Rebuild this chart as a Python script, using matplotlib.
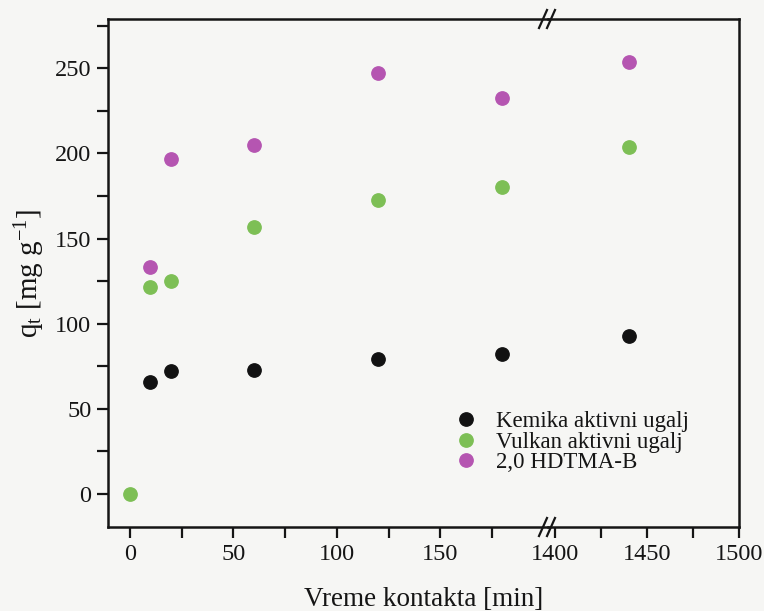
import matplotlib
matplotlib.use("Agg")
import matplotlib.pyplot as plt
from matplotlib.ticker import MultipleLocator, FixedLocator
from matplotlib.lines import Line2D

# Contact time [min] and adsorbed amount q_t [mg/g]
time_kemika = [10, 20, 60, 120, 180, 1440]
q_kemika = [65.5, 72, 72.5, 79.5, 82, 92.5]

time_vulkan = [0, 10, 20, 60, 120, 180, 1440]
q_vulkan = [0, 121.5, 125, 157, 172.5, 180.5, 203.5]

time_hdtma = [10, 20, 60, 120, 180, 1440]
q_hdtma = [133.5, 196.5, 205, 247.5, 232.5, 253.5]

series_labels = ["Kemika aktivni ugalj", "Vulkan aktivni ugalj", "2,0 HDTMA-B"]
series_colors = ["#121212", "#7dbf55", "#b555b1"]

x_ticks_left = [0, 50, 100, 150]
x_ticks_right = [1400, 1450, 1500]
y_ticks = [0, 50, 100, 150, 200, 250]

plt.rcParams["font.family"] = ["Liberation Serif", "DejaVu Serif"]
plt.rcParams["mathtext.fontset"] = "custom"
plt.rcParams["mathtext.rm"] = "Liberation Serif"
plt.rcParams["mathtext.it"] = "Liberation Serif:italic"

W, H = 764, 611
fig = plt.figure(figsize=(W / 100, H / 100), dpi=100)
page = "#f6f6f4"
fig.patch.set_facecolor(page)

# axes frame in pixels
x0, xb, x1 = 108, 548, 739
yt, yb = 19, 527
bottom = 1 - yb / H
height = (yb - yt) / H
axL = fig.add_axes([x0 / W, bottom, (xb - x0) / W, height])
axR = fig.add_axes([xb / W, bottom, (x1 - xb) / W, height], sharey=axL)

data = [(time_kemika, q_kemika), (time_vulkan, q_vulkan), (time_hdtma, q_hdtma)]
for ax in (axL, axR):
    ax.patch.set_alpha(0)
    for (t, q), c, lab in zip(data, series_colors, series_labels):
        ax.plot(t, q, "o", ms=9.6, color=c, mec=c, label=lab, zorder=3)
    for s in ax.spines.values():
        s.set_linewidth(1.8)
        s.set_color("#151515")
    ax.tick_params(which="both", direction="out", length=8, width=1.6,
                   labelsize=17.5, color="#151515", labelcolor="#151515", pad=4)

axL.set_xlim(-10.5, 202)
axR.set_xlim(1396, 1500)
axL.set_ylim(-19.5, 279)

axL.spines["right"].set_visible(False)
axR.spines["left"].set_visible(False)
axL.tick_params(top=False, right=False)
axR.tick_params(axis="y", which="both", left=False, right=False, labelleft=False)
axR.tick_params(top=False)

axL.xaxis.set_major_locator(FixedLocator(x_ticks_left))
axL.xaxis.set_minor_locator(FixedLocator([25, 75, 125, 175]))
axR.xaxis.set_major_locator(FixedLocator(x_ticks_right))
axR.xaxis.set_minor_locator(FixedLocator([1425, 1475]))
axL.yaxis.set_major_locator(FixedLocator(y_ticks))
axL.yaxis.set_minor_locator(MultipleLocator(25))

# axis break marks
for yy in (yt, yb):
    for dx in (-5, 3):
        cx = xb + dx
        fig.add_artist(Line2D([(cx - 4) / W, (cx + 4) / W],
                              [1 - (yy + 9) / H, 1 - (yy - 9) / H],
                              color="#151515", lw=1.6, transform=fig.transFigure))

fig.text((x0 + x1) / 2 / W, 1 - 600 / H, "Vreme kontakta [min]",
         fontsize=19.5, ha="center", va="center", color="#151515")
fig.text(30 / W, 1 - 273 / H, r"q$_\mathrm{t}$ [mg g$^{\mathrm{-1}}$]",
         fontsize=21, rotation=90, ha="center", va="center", color="#151515")

leg = axL.legend(loc="upper left", bbox_to_anchor=((458 - x0) / (xb - x0), 1 - (411 - yt) / (yb - yt)),
                 frameon=False, fontsize=16.5, handlelength=0.7, handletextpad=0.95,
                 labelspacing=-0.02, borderaxespad=0, borderpad=0)
for t in leg.get_texts():
    t.set_color("#151515")

fig.savefig("out.png", dpi=100, facecolor=page)
